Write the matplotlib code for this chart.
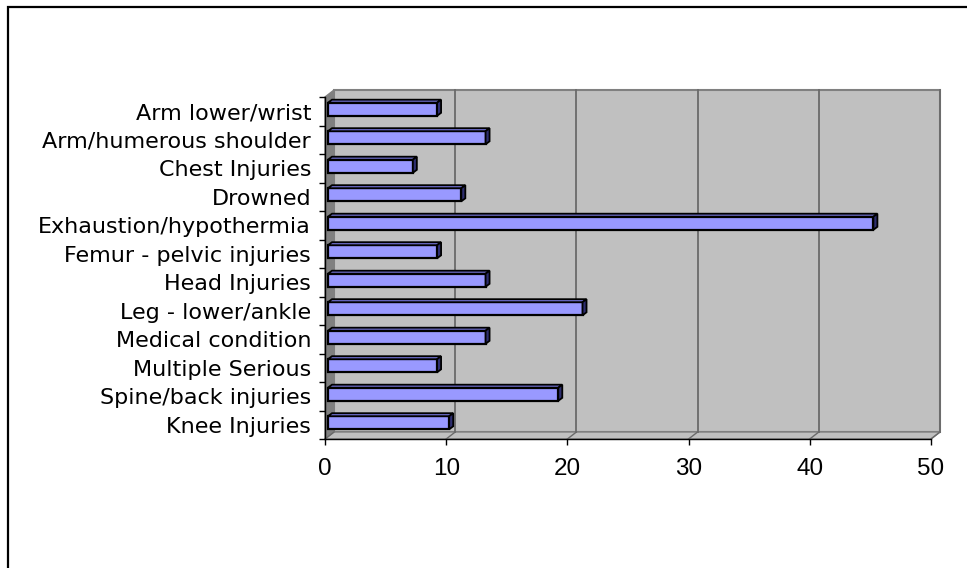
import numpy as np
import matplotlib
matplotlib.use("Agg")
import matplotlib.pyplot as plt
from matplotlib.patches import Polygon, Rectangle
from matplotlib.transforms import IdentityTransform, offset_copy

categories = ["Arm lower/wrist", "Arm/humerous shoulder", "Chest Injuries", "Drowned",
              "Exhaustion/hypothermia", "Femur - pelvic injuries", "Head Injuries",
              "Leg - lower/ankle", "Medical condition", "Multiple Serious",
              "Spine/back injuries", "Knee Injuries"]
counts = [9, 13, 7, 11, 45, 9, 13, 21, 13, 9, 19, 10]
x_ticks = [0, 10, 20, 30, 40, 50]

plt.rcParams['font.family'] = ['Liberation Sans', 'DejaVu Sans']

W, H = 967, 568
fig = plt.figure(figsize=(W / 100, H / 100), dpi=100)
fig.patch.set_facecolor('white')

# front plane of the plot area (pixels from top-left)
left, right, top, bottom = 325, 931, 97, 439
ax = fig.add_axes([left / W, 1 - bottom / H, (right - left) / W, (bottom - top) / H])
ax.set_facecolor('none')
n = len(categories)
ax.set_xlim(0, 50)
ax.set_ylim(n - 0.5, -0.5)

# depth of the 3-D box, and where the bars sit inside it (pixels)
DX, DY = 9, 7
BX0, BY0 = 3, 2
BX1, BY1 = 7, 5

to_px = ax.transData.transform


def box(pts, **kw):
    ax.add_artist(Polygon(pts, closed=True, transform=IdentityTransform(),
                          clip_on=False, **kw))


(fx0, fy0), (fx1, fy1) = to_px([(0, n - 0.5), (50, -0.5)])  # front bottom-left / top-right

# back wall, left wall and floor
box([(fx0 + DX, fy0 + DY), (fx1 + DX, fy0 + DY), (fx1 + DX, fy1 + DY), (fx0 + DX, fy1 + DY)],
    facecolor='#C0C0C0', edgecolor='#808080', lw=1.5, zorder=0.1)
box([(fx0, fy0), (fx0 + DX, fy0 + DY), (fx0 + DX, fy1 + DY), (fx0, fy1)],
    facecolor='#808080', edgecolor='#808080', lw=1, zorder=0.2)
box([(fx0, fy0), (fx1, fy0), (fx1 + DX, fy0 + DY), (fx0 + DX, fy0 + DY)],
    facecolor='#C0C0C0', edgecolor='#808080', lw=1, zorder=0.2)

# gridlines on the back wall plus their floor stubs
for t in x_ticks[1:]:
    gx = to_px((t, 0))[0]
    ax.add_artist(plt.Line2D([gx + DX, gx + DX], [fy0 + DY, fy1 + DY], color='#6A6A6A',
                             lw=1.3, transform=IdentityTransform(), clip_on=False, zorder=0.3))
for t in x_ticks:
    gx = to_px((t, 0))[0]
    ax.add_artist(plt.Line2D([gx, gx + DX], [fy0, fy0 + DY], color='#6A6A6A',
                             lw=1.0, transform=IdentityTransform(), clip_on=False, zorder=0.3))

# bars: front faces through barh, top and end faces drawn on top
bar_h = 0.46
bars = ax.barh(np.arange(n), counts, height=bar_h, color='#9999FF',
               edgecolor='black', linewidth=1.6, zorder=3)
front = offset_copy(ax.transData, fig=fig, x=BX0, y=BY0, units='dots')
for rect in bars:
    rect.set_transform(front)
    rect.set_clip_on(False)

for i, v in enumerate(counts):
    (x0, yb), (x1, yt) = to_px([(0, i + bar_h / 2), (v, i - bar_h / 2)])
    box([(x0 + BX0, yt + BY0), (x1 + BX0, yt + BY0), (x1 + BX1, yt + BY1), (x0 + BX1, yt + BY1)],
        facecolor='#6E6ECC', edgecolor='black', lw=1.3, zorder=3.1)
    box([(x1 + BX0, yt + BY0), (x1 + BX1, yt + BY1), (x1 + BX1, yb + BY1), (x1 + BX0, yb + BY0)],
        facecolor='#2E2E70', edgecolor='black', lw=1.3, zorder=3.1)

# axes lines and ticks
for side in ('top', 'right'):
    ax.spines[side].set_visible(False)
for side in ('left', 'bottom'):
    ax.spines[side].set_color('black')
    ax.spines[side].set_linewidth(1.0)
    ax.spines[side].set_zorder(4)

ax.set_xticks(x_ticks)
ax.set_xticklabels([str(t) for t in x_ticks])
ax.tick_params(axis='x', length=4.5, width=1, color='black', pad=9, labelsize=17.5)

ax.set_yticks(np.arange(n))
ax.set_yticklabels(categories)
ax.set_yticks(np.arange(n + 1) - 0.5, minor=True)
ax.tick_params(axis='y', which='major', length=0, pad=10, labelsize=16)
ax.tick_params(axis='y', which='minor', length=4.5, width=1, color='black')
for lab in ax.get_yticklabels():
    lab.set_fontfamily('DejaVu Sans')

# chart area border (runs off the right and bottom edges)
fig.add_artist(Rectangle((8, -20), 1100, H - 7 + 20, transform=IdentityTransform(),
                         facecolor='none', edgecolor='black', lw=1.6))

fig.savefig('out.png', dpi=100)
